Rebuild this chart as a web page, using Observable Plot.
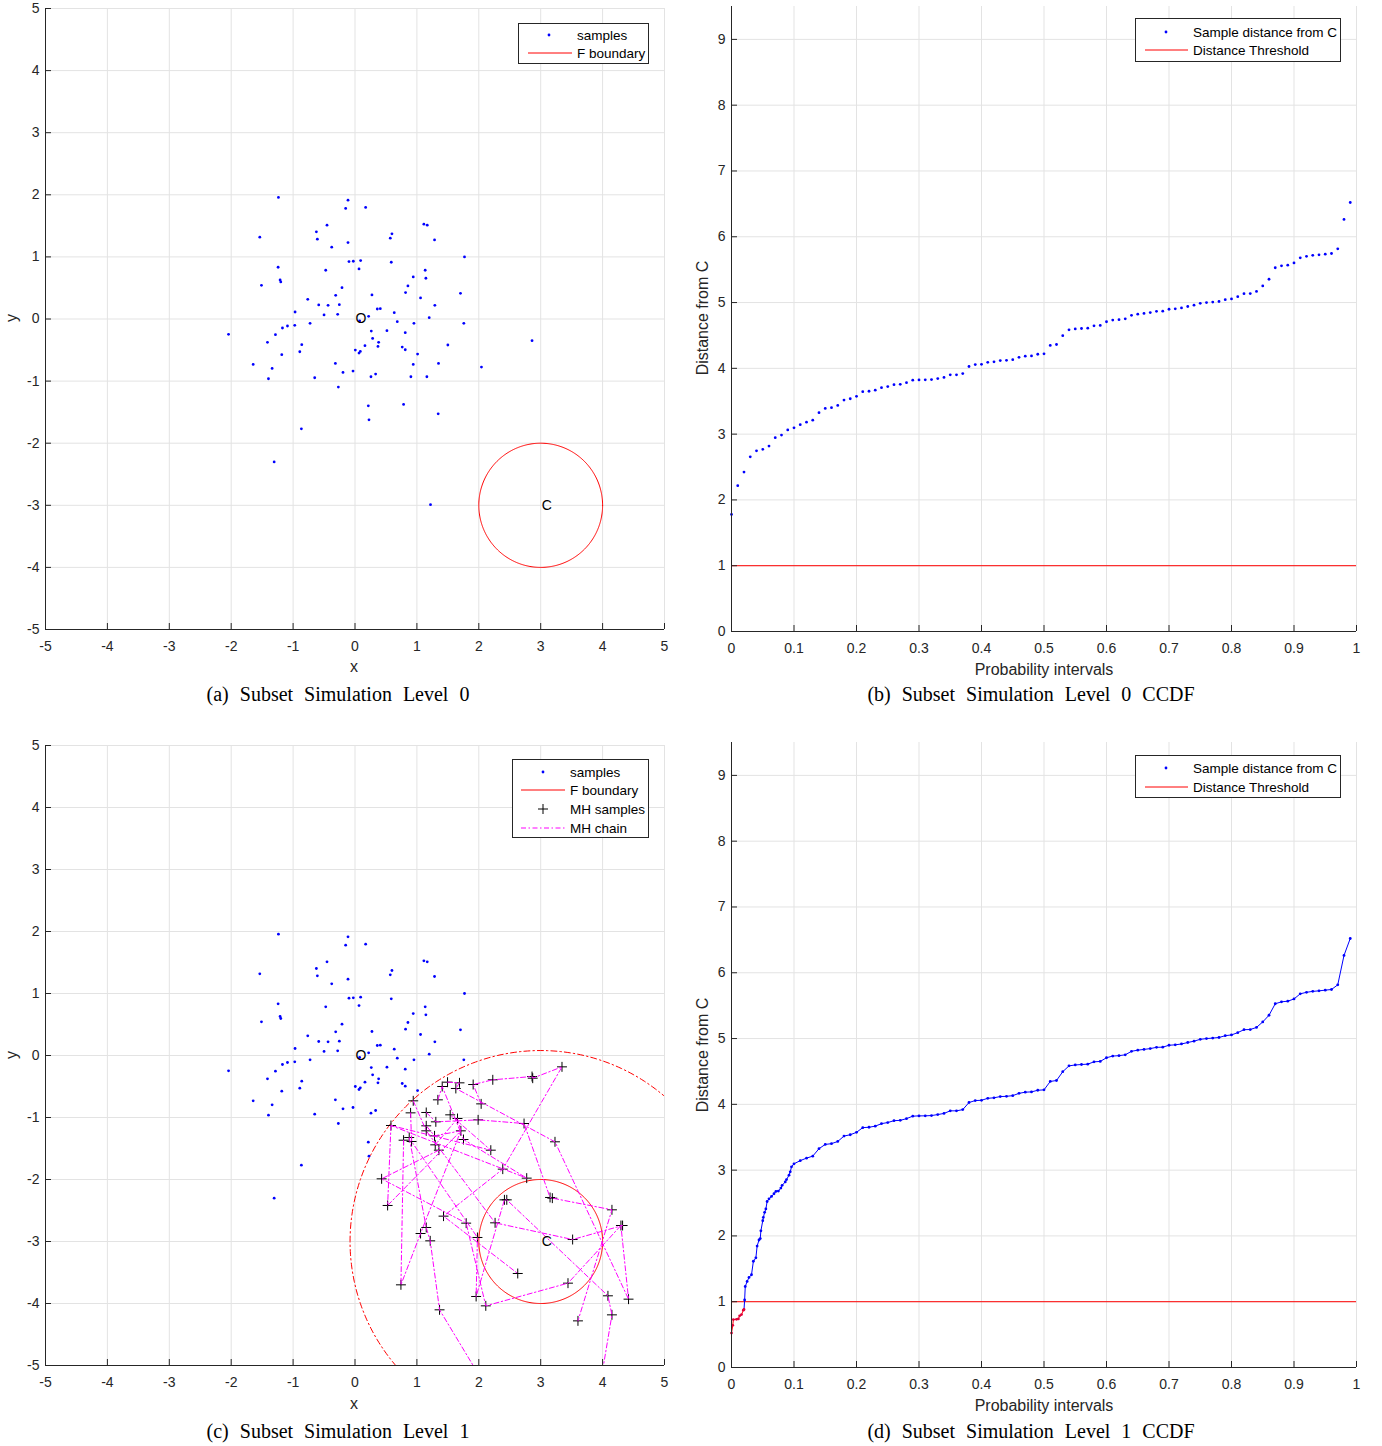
<!DOCTYPE html>
<html><head><meta charset="utf-8">
<script src="https://cdn.jsdelivr.net/npm/d3@7"></script>
<script src="https://cdn.jsdelivr.net/npm/@observablehq/plot@0.6"></script>
<style>
body{margin:0;background:#fff;}
#root{position:relative;width:1382px;height:1446px;overflow:hidden;font-family:"Liberation Sans",Arial,sans-serif;color:#262626;}
.cap{position:absolute;font-family:"Liberation Serif","Times New Roman",serif;font-size:20px;color:#000;white-space:nowrap;transform:translate(-50%,-50%);word-spacing:6px;}
.lab{position:absolute;font-size:16px;white-space:nowrap;transform:translate(-50%,-50%);color:#262626;}
.rot{transform:translate(-50%,-50%) rotate(-90deg);}
</style></head><body><div id="root"></div>
<script>
// ---------------- data ----------------
const sampleX = [-1.237,-0.113,-0.151,0.172,-1.538,-0.452,-0.624,-0.608,-0.376,-0.113,
  1.113,1.167,0.597,0.570,1.285,1.769,-0.097,-0.027,0.091,0.065,
  0.586,-1.242,-0.473,-1.210,-1.199,-1.511,1.134,0.941,1.145,0.855,
  0.817,-0.210,-0.312,0.274,-0.763,-0.586,-0.435,-0.253,1.059,1.704,
  1.290,-0.968,-0.500,-0.280,0.360,0.409,0.634,0.220,0.075,0.683,
  0.952,1.199,1.758,-2.043,-1.285,-1.172,-1.091,-0.973,-0.726,-1.414,
  -0.860,-0.892,-1.183,0.263,0.285,0.516,0.812,0.382,0.371,0.161,
  0.005,0.065,0.086,0.763,0.812,1.011,1.500,0.941,1.349,2.860,
  2.043,-1.645,-1.339,-1.398,-0.317,-0.194,-0.032,-0.651,0.258,0.333,
  0.903,1.161,-0.269,0.215,0.226,0.785,1.344,-0.866,-1.306,1.220];
const sampleY = [1.957,1.914,1.780,1.796,1.317,1.511,1.403,1.285,1.156,1.231,
  1.527,1.511,1.371,1.301,1.274,1.000,0.925,0.930,0.941,0.806,
  0.914,0.833,0.785,0.629,0.597,0.543,0.785,0.677,0.656,0.532,
  0.425,0.505,0.382,0.387,0.317,0.226,0.220,0.231,0.339,0.414,
  0.220,0.113,0.065,0.075,0.161,0.167,0.102,0.043,-0.032,-0.043,
  -0.070,0.022,-0.070,-0.247,-0.253,-0.145,-0.113,-0.102,-0.070,-0.376,
  -0.414,-0.527,-0.575,-0.194,-0.312,-0.188,-0.220,-0.376,-0.441,-0.430,
  -0.500,-0.548,-0.522,-0.452,-0.495,-0.565,-0.419,-0.731,-0.715,-0.349,
  -0.774,-0.731,-0.796,-0.962,-0.715,-0.860,-0.839,-0.946,-0.930,-0.887,
  -0.930,-0.930,-1.097,-1.398,-1.624,-1.376,-1.527,-1.769,-2.301,-2.990];

const centerC = [3, -3];
const fRadius = 1;
const level1Radius = 3.08;
const distanceThreshold = 1;

// MH samples (P1..P61), plus two chain proposals that fall below the plot (P62, P63)
const mhX = [3.344,2.860,2.871,2.226,1.909,1.688,1.629,1.495,1.409,1.339,
  0.941,2.038,0.898,1.151,1.538,1.656,1.989,2.731,1.306,0.581,
  1.151,1.151,1.710,0.876,0.785,0.914,1.285,1.753,1.296,1.355,
  3.231,2.194,2.387,2.774,0.430,0.527,2.414,2.452,3.151,3.188,
  4.151,4.296,4.323,1.430,1.796,2.263,1.151,1.059,1.215,1.978,
  3.516,2.629,3.441,0.742,1.957,2.113,4.086,4.419,1.366,4.151,
  3.602,2.120,3.930];
const mhY = [-0.183,-0.339,-0.366,-0.392,-0.468,-0.441,-0.532,-0.430,-0.500,-0.715,
  -0.731,-0.780,-0.925,-0.919,-0.957,-1.016,-1.038,-1.097,-1.070,-1.129,
  -1.134,-1.215,-1.215,-1.323,-1.366,-1.387,-1.296,-1.355,-1.441,-1.527,
  -1.392,-1.527,-1.833,-1.978,-1.989,-2.419,-2.328,-2.328,-2.290,-2.301,
  -2.489,-2.742,-2.742,-2.591,-2.704,-2.699,-2.774,-2.871,-2.989,-2.935,
  -2.968,-3.516,-3.672,-3.699,-3.887,-4.038,-3.876,-3.930,-4.102,-4.183,
  -4.280,-5.350,-5.500];
const mhChains = [
  [24,47,49,59,62],
  [25,54,48,23,16,29],
  [20,36,23,27,21],
  [30,35,45,56,53,42,58],
  [12,5,4,2,3,1,33,44,52],
  [8,6,7,31,58],
  [14,19,17,18,39,40,41,61],
  [10,9,28,34,20,32,15],
  [13,26,50,55,37,38,57,60,63],
  [11,22,46,51,43,42]
];

// Level 1 CCDF: lowest part (MH samples)
const level1LowP = [0,0.002,0.003,0.008,0.011,0.013,0.016,0.019,0.020,0.021,0.022,0.025,0.028,0.032,0.035,0.039,0.041,0.044,0.046,0.047,0.050,0.051,0.053,0.055,0.057,0.060,0.064,0.068,0.071,0.075,0.079,0.081,0.086,0.088,0.092,0.094,0.096];
const level1LowD = [0.523,0.641,0.728,0.733,0.738,0.785,0.805,0.872,0.882,1.026,1.231,1.308,1.369,1.41,1.615,1.667,1.846,1.938,1.959,2.077,2.231,2.282,2.359,2.41,2.523,2.564,2.6,2.641,2.677,2.682,2.728,2.769,2.821,2.856,2.923,2.974,3.051];

const xyTicks = [-5,-4,-3,-2,-1,0,1,2,3,4,5];
const probTicks = [0,0.1,0.2,0.3,0.4,0.5,0.6,0.7,0.8,0.9,1];
const distTicks = [0,1,2,3,4,5,6,7,8,9];

// ---------------- derived tables ----------------
const samples = sampleX.map((x,i)=>({x, y: sampleY[i], d: Math.hypot(x-centerC[0], sampleY[i]-centerC[1])}));
const level0Sorted = samples.map(s=>s.d).sort(d3.ascending);
const level0Ccdf = level0Sorted.map((d,i)=>({p: i/level0Sorted.length, d}));
const level1Ccdf = level1LowP.map((p,i)=>({p, d: level1LowD[i]})).concat(level0Ccdf.slice(10));
const level1Red = level1Ccdf.filter(r=>r.d < distanceThreshold);
const level1Blue = level1Ccdf.slice(level1Red.length - 1);
const mhPoints = mhX.slice(0,61).map((x,i)=>({x, y: mhY[i]}));
const chainRows = mhChains.flatMap((ids,c)=>ids.map(id=>({x: mhX[id-1], y: mhY[id-1], chain: c})));
function circle(cx, cy, r){ return d3.range(0, 361, 1).map(a=>({x: cx + r*Math.cos(a*Math.PI/180), y: cy + r*Math.sin(a*Math.PI/180)})); }

// ---------------- drawing ----------------
const root = document.getElementById("root");
const GRID = "#e3e3e3", AX = "#262626";
const FONT = '"Liberation Sans", Arial, Helvetica, sans-serif';

function panel({left, top, width, height, mL, mT, mR, mB, xDomain, yDomain, xTicks, yTicks, marks}){
  const pw = width - mL - mR, ph = height - mT - mB;
  const fmt = d => String(d);
  const chart = Plot.plot({
    width, height, marginLeft: mL, marginTop: mT, marginRight: mR, marginBottom: mB,
    x: {domain: xDomain}, y: {domain: yDomain},
    style: {fontFamily: FONT, fontSize: "14px", color: "#262626", background: "transparent", overflow: "visible"},
    marks: [
      Plot.ruleX(xTicks, {x: d=>d, stroke: GRID, strokeWidth: 1}),
      Plot.ruleY(yTicks, {y: d=>d, stroke: GRID, strokeWidth: 1}),
      ...marks,
      Plot.ruleX([xDomain[0]], {x: d=>d, stroke: AX, strokeWidth: 1}),
      Plot.ruleY([yDomain[0]], {y: d=>d, stroke: AX, strokeWidth: 1}),
      Plot.tickX(xTicks, {x: d=>d, insetTop: ph - 6, stroke: AX}),
      Plot.tickY(yTicks, {y: d=>d, insetRight: pw - 6, stroke: AX}),
      Plot.axisX({ticks: xTicks, tickSize: 0, tickPadding: 12, tickFormat: fmt, label: null, fill: "#262626"}),
      Plot.axisY({ticks: yTicks, tickSize: 0, tickPadding: 6, tickFormat: fmt, label: null, fill: "#262626"})
    ]
  });
  chart.style.position = "absolute";
  chart.style.left = left + "px";
  chart.style.top = top + "px";
  root.appendChild(chart);
}

function label(text, x, y, rotate){
  const d = document.createElement("div");
  d.className = "lab" + (rotate ? " rot" : "");
  d.style.left = x + "px"; d.style.top = y + "px";
  d.textContent = text; root.appendChild(d);
}
function caption(text, x, y){
  const d = document.createElement("div");
  d.className = "cap"; d.style.left = x + "px"; d.style.top = y + "px";
  d.textContent = text; root.appendChild(d);
}
function legend(left, top, w, h, symX, lineX1, lineX2, textX, rows){
  const svg = d3.create("svg").attr("width", w).attr("height", h)
    .style("position","absolute").style("left", left+"px").style("top", top+"px");
  svg.append("rect").attr("x",0.5).attr("y",0.5).attr("width",w-1).attr("height",h-1)
    .attr("fill","white").attr("stroke","#262626").attr("stroke-width",1);
  rows.forEach(r=>{
    if (r.kind === "dot") svg.append("circle").attr("cx",symX).attr("cy",r.y).attr("r",1.4).attr("fill","#0000ff");
    if (r.kind === "line") svg.append("line").attr("x1",lineX1).attr("x2",lineX2).attr("y1",r.y).attr("y2",r.y).attr("stroke","#ff0000").attr("stroke-width",1);
    if (r.kind === "dashdot") svg.append("line").attr("x1",lineX1).attr("x2",lineX2).attr("y1",r.y).attr("y2",r.y).attr("stroke","#ff00ff").attr("stroke-width",1).attr("stroke-dasharray","5,2.5,1.5,2.5");
    if (r.kind === "plus") { svg.append("path").attr("d",`M${symX-5},${r.y}H${symX+5}M${symX},${r.y-5}V${r.y+5}`).attr("stroke","#000").attr("stroke-width",1); }
    svg.append("text").attr("x",textX).attr("y",r.y).attr("dy","0.36em").attr("font-family",FONT).attr("font-size","13.5px").attr("fill","#000").text(r.text);
  });
  root.appendChild(svg.node());
}

// (a)
panel({left:0, top:0, width:680, height:680, mL:45, mT:8, mR:16, mB:51,
  xDomain:[-5,5], yDomain:[-5,5], xTicks:xyTicks, yTicks:xyTicks,
  marks:[
    Plot.dot(samples, {x:"x", y:"y", r:1.4, fill:"#0000ff"}),
    Plot.line(circle(centerC[0], centerC[1], fRadius), {x:"x", y:"y", stroke:"#ff0000", strokeWidth:1}),
    Plot.text([{x:0,y:0,t:"O"},{x:centerC[0],y:centerC[1],t:"C"}], {x:"x", y:"y", text:"t", dx:6, fontSize:14, fill:"#000"})
  ]});
// (b)
panel({left:690, top:0, width:686, height:680, mL:41, mT:6, mR:20, mB:49,
  xDomain:[0,1], yDomain:[0,9.5], xTicks:probTicks, yTicks:distTicks,
  marks:[
    Plot.ruleY([distanceThreshold], {y:d=>d, stroke:"#ff0000", strokeWidth:1}),
    Plot.dot(level0Ccdf, {x:"p", y:"d", r:1.4, fill:"#0000ff"})
  ]});
// (c)
panel({left:0, top:737, width:680, height:679, mL:45, mT:8, mR:16, mB:51,
  xDomain:[-5,5], yDomain:[-5,5], xTicks:xyTicks, yTicks:xyTicks,
  marks:[
    Plot.dot(samples.filter(s=>s.d > level1Radius), {x:"x", y:"y", r:1.4, fill:"#0000ff"}),
    Plot.line(circle(centerC[0], centerC[1], fRadius), {x:"x", y:"y", stroke:"#ff0000", strokeWidth:1}),
    Plot.line(circle(centerC[0], centerC[1], level1Radius), {x:"x", y:"y", stroke:"#ff0000", strokeWidth:1, strokeDasharray:"6,3,1.5,3", clip:true}),
    Plot.dot(mhPoints, {x:"x", y:"y", symbol:"plus", r:3.3, fill:"none", stroke:"#000", strokeWidth:1, clip:true}),
    Plot.line(chainRows, {x:"x", y:"y", z:"chain", stroke:"#ff00ff", strokeWidth:1, strokeDasharray:"5,2.5,1.5,2.5", clip:true}),
    Plot.text([{x:0,y:0,t:"O"},{x:centerC[0],y:centerC[1],t:"C"}], {x:"x", y:"y", text:"t", dx:6, fontSize:14, fill:"#000"})
  ]});
// (d)
panel({left:690, top:736, width:686, height:680, mL:41, mT:6, mR:20, mB:49,
  xDomain:[0,1], yDomain:[0,9.5], xTicks:probTicks, yTicks:distTicks,
  marks:[
    Plot.ruleY([distanceThreshold], {y:d=>d, stroke:"#ff0000", strokeWidth:1}),
    Plot.line(level1Blue, {x:"p", y:"d", stroke:"#0000ff", strokeWidth:1}),
    Plot.dot(level1Blue.slice(1), {x:"p", y:"d", r:1.4, fill:"#0000ff"}),
    Plot.line(level1Red, {x:"p", y:"d", stroke:"#ff0000", strokeWidth:1}),
    Plot.dot(level1Red, {x:"p", y:"d", r:1.4, fill:"#e0003a"})
  ]});

// axis labels
label("x", 354, 667); label("x", 354, 1404);
label("y", 12, 318, true); label("y", 12, 1055, true);
label("Probability intervals", 1044, 670); label("Probability intervals", 1044, 1406);
label("Distance from C", 703, 318, true); label("Distance from C", 703, 1055, true);

// legends
legend(518, 23, 131, 41, 31, 10, 54, 59, [{kind:"dot", y:12, text:"samples"},{kind:"line", y:30, text:"F boundary"}]);
legend(1135, 18, 206, 44, 31, 10, 53, 58, [{kind:"dot", y:14, text:"Sample distance from C"},{kind:"line", y:32, text:"Distance Threshold"}]);
legend(512, 759, 137, 79, 31, 9, 53, 58, [{kind:"dot", y:13, text:"samples"},{kind:"line", y:31, text:"F boundary"},{kind:"plus", y:50, text:"MH samples"},{kind:"dashdot", y:69, text:"MH chain"}]);
legend(1135, 755, 206, 43, 31, 10, 53, 58, [{kind:"dot", y:13, text:"Sample distance from C"},{kind:"line", y:32, text:"Distance Threshold"}]);

// captions
caption("(a) Subset Simulation Level 0", 338, 694);
caption("(b) Subset Simulation Level 0 CCDF", 1031, 694);
caption("(c) Subset Simulation Level 1", 338, 1431);
caption("(d) Subset Simulation Level 1 CCDF", 1031, 1431);
</script></body></html>
